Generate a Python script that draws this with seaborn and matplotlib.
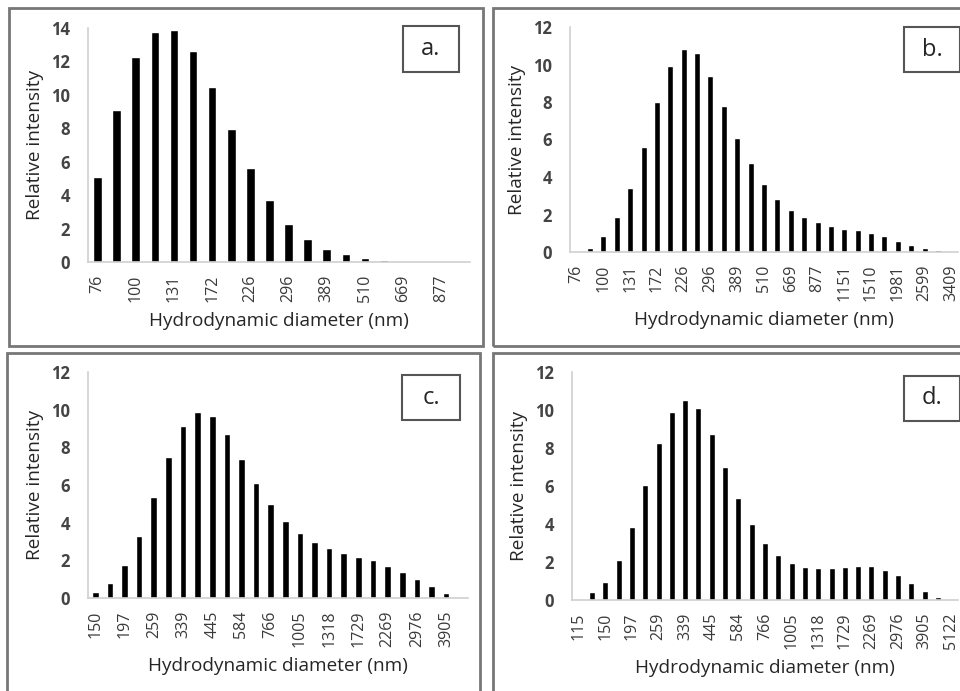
import pandas as pd
import seaborn as sns
import matplotlib.pyplot as plt
from matplotlib.patches import Rectangle

# size bins (nm), shared log-spaced grid
sizes_a = ['76', '87', '100', '115', '131', '150', '172', '197', '226', '259',
           '296', '339', '389', '445', '510', '584', '669', '766', '877', '1005']
values_a = [5.1, 9.1, 12.25, 13.75, 13.9, 12.6, 10.45, 7.95, 5.6, 3.7,
            2.3, 1.4, 0.8, 0.45, 0.22, 0.1, 0.0, 0.0, 0.0, 0.0]

sizes_b = ['76', '87', '100', '115', '131', '150', '172', '197', '226', '259',
           '296', '339', '389', '445', '510', '584', '669', '766', '877', '1005',
           '1151', '1318', '1510', '1729', '1981', '2269', '2599', '2976', '3409']
values_b = [0.08, 0.2, 0.85, 1.85, 3.4, 5.6, 8.0, 9.9, 10.85, 10.6,
            9.4, 7.8, 6.1, 4.75, 3.65, 2.85, 2.25, 1.85, 1.6, 1.4,
            1.25, 1.15, 1.0, 0.85, 0.6, 0.4, 0.2, 0.12, 0.0]

sizes_c = ['150', '172', '197', '226', '259', '296', '339', '389', '445', '510',
           '584', '669', '766', '877', '1005', '1151', '1318', '1510', '1729', '1981',
           '2269', '2599', '2976', '3409', '3905', '4472']
values_c = [0.3, 0.8, 1.75, 3.3, 5.35, 7.5, 9.15, 9.9, 9.65, 8.7,
            7.4, 6.1, 5.0, 4.1, 3.45, 2.95, 2.65, 2.4, 2.2, 2.0,
            1.7, 1.4, 1.0, 0.65, 0.28, 0.06]

sizes_d = ['115', '131', '150', '172', '197', '226', '259', '296', '339', '389',
           '445', '510', '584', '669', '766', '877', '1005', '1151', '1318', '1510',
           '1729', '1981', '2269', '2599', '2976', '3409', '3905', '4472', '5122']
values_d = [0.07, 0.4, 0.95, 2.1, 3.85, 6.05, 8.25, 9.9, 10.55, 10.1,
            8.75, 7.0, 5.35, 4.0, 3.0, 2.35, 1.95, 1.75, 1.7, 1.7,
            1.75, 1.8, 1.8, 1.6, 1.3, 0.9, 0.5, 0.15, 0.07]

panel_labels = ['a.', 'b.', 'c.', 'd.']

W, H = 960, 691


def px_rect(x0, y0, x1, y1):
    # pixel box (top-left origin) -> figure fraction [l, b, w, h]
    return [x0 / W, (H - y1) / H, (x1 - x0) / W, (y1 - y0) / H]


def plot_panel(fig, rect, sizes, values, ymax, label, label_box):
    ax = fig.add_axes(px_rect(*rect))
    df = pd.DataFrame({'size': sizes, 'intensity': values})
    sns.barplot(data=df, x='size', y='intensity', order=sizes,
                color='black', width=0.45, saturation=1, ax=ax)
    ax.set_xlim(-0.5, len(sizes) - 0.5)
    ax.set_ylim(0, ymax)
    ax.set_yticks(range(0, ymax + 1, 2))
    ax.set_xticks(range(0, len(sizes), 2))
    ax.set_xticklabels(sizes[::2], rotation=90)
    ax.tick_params(axis='x', length=0, pad=9, labelsize=11.5, labelcolor='#3a3a3a')
    ax.tick_params(axis='y', length=4, width=1, color='#d0d0d0', pad=9,
                   labelsize=12, labelcolor='#444444')
    for t in ax.get_yticklabels():
        t.set_fontweight('bold')
    for s in ['top', 'right']:
        ax.spines[s].set_visible(False)
    for s in ['left', 'bottom']:
        ax.spines[s].set_color('#d0d0d0')
        ax.spines[s].set_linewidth(1.2)
    ax.set_xlabel('Hydrodynamic diameter (nm)', fontsize=13.7, labelpad=7)
    ax.set_ylabel('Relative intensity', fontsize=13.7, labelpad=5)
    ax.patch.set_alpha(0)

    # boxed panel letter
    l, b, w, h = px_rect(*label_box)
    fig.add_artist(Rectangle((l, b), w, h, transform=fig.transFigure,
                             fill=False, edgecolor='#555555', linewidth=1.5))
    fig.text(l + w / 2, b + h / 2, label, ha='center', va='center', fontsize=17)
    return ax


sns.set_style('white')
plt.rcParams['font.family'] = ['Open Sans', 'DejaVu Sans']

fig = plt.figure(figsize=(W / 100, H / 100), dpi=100)

# outer panel frames
for box in [(9, 8, 483, 346), (493, 8, 968, 346), (7, 353, 480, 699), (493, 353, 968, 699)]:
    l, b, w, h = px_rect(*box)
    fig.add_artist(Rectangle((l, b), w, h, transform=fig.transFigure,
                             fill=False, edgecolor='#777777', linewidth=2))

plot_panel(fig, (88, 28, 470, 262), sizes_a, values_a, 14, panel_labels[0], (403, 26, 459, 72))
plot_panel(fig, (570, 27, 958, 252), sizes_b, values_b, 12, panel_labels[1], (904, 27, 960, 72))
plot_panel(fig, (88, 372, 468, 598), sizes_c, values_c, 12, panel_labels[2], (402, 375, 460, 420))
plot_panel(fig, (572, 372, 958, 600), sizes_d, values_d, 12, panel_labels[3], (904, 376, 960, 421))

fig.savefig('out.png', dpi=100)
plt.close(fig)
